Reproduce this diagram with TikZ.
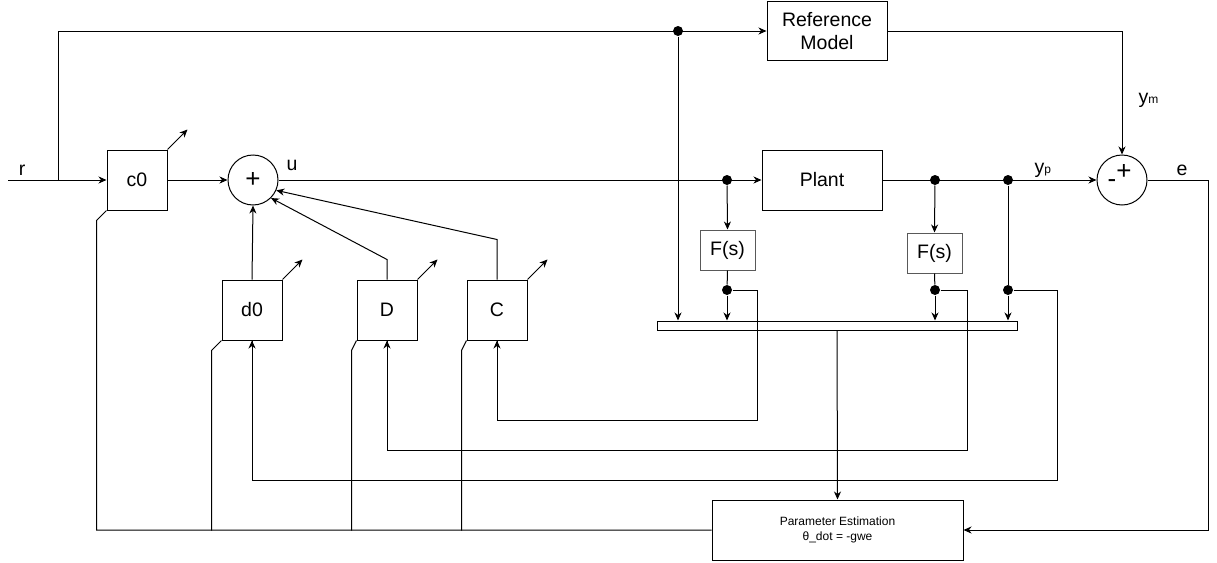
\documentclass[tikz,border=0pt]{standalone}
\usepackage{fontspec}
\setmainfont{Liberation Sans}
\usetikzlibrary{arrows.meta}
\begin{document}
\begin{tikzpicture}[x=1pt,y=-1pt, line width=1pt,
  blk/.style={draw, inner sep=0pt, font=\fontsize{19.5}{23}\selectfont, align=center},
  fblk/.style={blk, draw=black!65},
  dotn/.style={circle, fill, inner sep=0pt, minimum size=10pt},
  arr/.style={-{Stealth[length=8pt,width=7pt,inset=2.5pt]}},
  lbl/.style={inner sep=0pt, font=\fontsize{19.5}{23}\selectfont},
  sub/.style={font=\fontsize{12}{14}\selectfont}
]
\useasboundingbox (0,0) rectangle (1217,562);
% blocks
\node[blk, minimum width=60pt, minimum height=60pt] (c0) at (137,180) {c0};
\node[draw, circle, minimum size=50pt, inner sep=0pt, font=\fontsize{26}{28}\selectfont] (s1) at (253,180) {\raisebox{1pt}{+}};
\node[blk, minimum width=60pt, minimum height=60pt] (d0) at (252,310) {d0};
\node[blk, minimum width=60pt, minimum height=60pt] (D) at (387,310) {D};
\node[blk, minimum width=60pt, minimum height=60pt] (C) at (497,310) {C};
\node[blk, minimum width=120pt, minimum height=60pt] (Plant) at (822,180) {Plant};
\node[blk, minimum width=120pt, minimum height=59pt] (RM) at (827,31) {Reference\\Model};
\node[fblk, minimum width=55pt, minimum height=40pt] (F1) at (727.5,250) {F(s)};
\node[fblk, minimum width=55pt, minimum height=40pt] (F2) at (934.5,253) {F(s)};
\node[draw, inner sep=0pt, minimum width=360pt, minimum height=9pt] (bar) at (837,325.5) {};
\node[draw, inner sep=0pt, minimum width=251pt, minimum height=60pt, align=center, font=\fontsize{12}{14.5}\selectfont] (PE) at (837.5,530) {Parameter Estimation\\θ\_dot = -gwe};
\node[draw, circle, minimum size=50pt, inner sep=0pt] (s2) at (1122,180) {};
\node[inner sep=0pt, font=\fontsize{26}{28}\selectfont] (s2p) at (1124,172) {+};
\node[inner sep=0pt, font=\fontsize{26}{28}\selectfont] (s2m) at (1112,184) {-};
% dots
\node[dotn] (dR) at (678,31) {};
\node[dotn] (du) at (727,180) {};
\node[dotn] (dy1) at (935,180) {};
\node[dotn] (dy2) at (1008,180) {};
\node[dotn] (dF1) at (727,290) {};
\node[dotn] (dF2) at (935,290) {};
\node[dotn] (dy3) at (1008,290) {};
\coordinate (rin) at (8,180);
\coordinate (rbr) at (58,180);
% labels
\node[lbl] (lr) at (22,170) {r};
\node[lbl] (lu) at (292,165) {u};
\node[lbl, anchor=base west] (lym) at (1138,103) {y{\fontsize{12}{14}\selectfont m}};
\node[lbl, anchor=base west] (lyp) at (1034,173) {y{\fontsize{12}{14}\selectfont p}};
\node[lbl] (le) at (1182,170) {e};
% connectors
\draw[arr] (rin) -- (c0.west);
\draw[arr] (rbr) |- (RM.west);
\draw[arr] (c0) -- (s1);
\draw[arr] (s1.east) -- (Plant.west);
\draw[arr] (d0.north) -- (s1.south);
\draw[arr] (D.north) -- ++(0,-20) -- (s1.-45);
\draw[arr] (C.north) -- ++(0,-40) -- (s1.-24);
\draw[arr] (c0.north east) -- ++(20,-20);
\draw[arr] (d0.north east) -- ++(20,-20);
\draw[arr] (D.north east) -- ++(20,-20);
\draw[arr] (C.north east) -- ++(20,-20);
\draw (c0.south west) -- ++(-10,10) |- (PE.west);
\draw (d0.south west) -- ++(-10,10) -- ++(0,180);
\draw (D.south west) -- ++(-5,10) -- ++(0,180);
\draw (C.south west) -- ++(-5,10) -- ++(0,180);
\draw[arr] (du) -- (F1.north);
\draw (F1.south) -- (dF1);
\draw[arr] (dy1) -- (F2.north);
\draw (F2.south) -- (dF2);
\draw[arr] (Plant.east) -- (s2.west);
\draw (dy2) -- (dy3);
\draw[arr] (dR) -- (dR |- bar.north);
\draw[arr] (dF1) -- (dF1 |- bar.north);
\draw[arr] (dF2) -- (dF2 |- bar.north);
\draw[arr] (dy3) -- (dy3 |- bar.north);
\draw (dF1) -- ++(30,0) -- ++(0,130) -| (C.south);
\draw (dF2) -- ++(32,0) -- ++(0,160) -| (D.south);
\draw (dy3) -- ++(49,0) -- ++(0,190) -| (d0.south);
\draw[arr] (C.south |- 0,420) -- (C.south);
\draw[arr] (D.south |- 0,450) -- (D.south);
\draw[arr] (d0.south |- 0,480) -- (d0.south);
\draw[arr] (bar.south) -- (PE.north);
\draw[arr] (RM.east) -| (s2.north);
\draw[arr] (s2.east) -- ++(61,0) |- (PE.east);
\end{tikzpicture}
\end{document}
